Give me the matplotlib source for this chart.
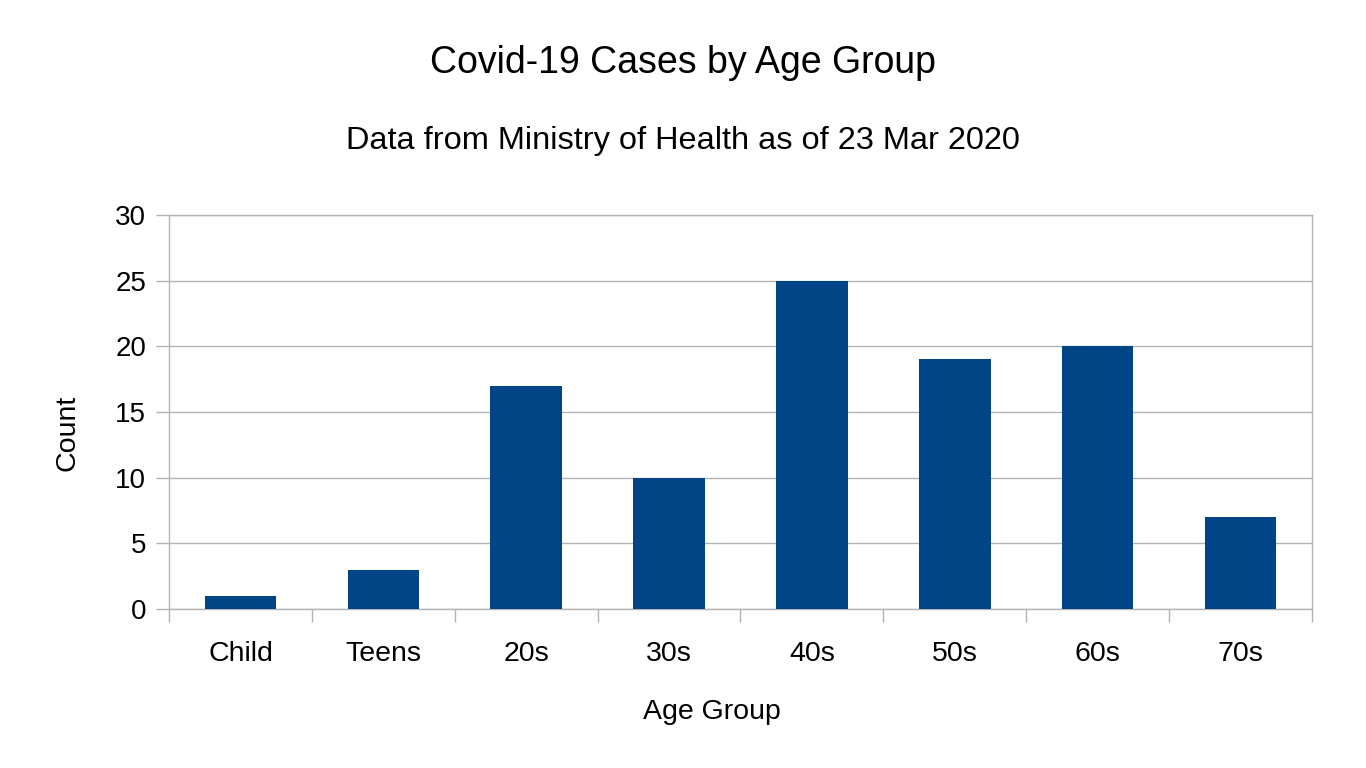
import matplotlib
matplotlib.use("Agg")
import matplotlib.pyplot as plt
import numpy as np

categories = ["Child", "Teens", "20s", "30s", "40s", "50s", "60s", "70s"]
counts = [1, 3, 17, 10, 25, 19, 20, 7]
y_ticks = [0, 5, 10, 15, 20, 25, 30]

plt.rcParams['font.family'] = ['Liberation Sans', 'DejaVu Sans']

fig = plt.figure(figsize=(13.66, 7.68), dpi=100)
W, H = 1366, 768
left, right, top, bottom = 169, 1312, 215, 609
ax = fig.add_axes([left / W, (H - bottom) / H, (right - left) / W, (bottom - top) / H])

grid_c = "#b3b3b3"
x = np.arange(len(categories))
ax.bar(x, counts, width=0.5, color="#004586", zorder=3)
ax.set_xlim(-0.5, len(categories) - 0.5)
ax.set_ylim(0, 30)
ax.set_yticks(y_ticks)
ax.set_yticklabels([str(v) for v in y_ticks], fontsize=20)
ax.yaxis.grid(True, color=grid_c, linewidth=1, zorder=0)
ax.set_axisbelow(True)

# x ticks: separators between categories, labels centered
ax.set_xticks(np.arange(-0.5, len(categories), 1.0))
ax.set_xticklabels([])
ax.set_xticks(x, minor=True)
ax.set_xticklabels(categories, minor=True, fontsize=20.5)
ax.tick_params(axis='x', which='major', length=9.5, color=grid_c, width=1)
ax.tick_params(axis='x', which='minor', length=0, pad=23)
ax.tick_params(axis='y', length=9.5, color=grid_c, width=1, pad=7)

for s in ax.spines.values():
    s.set_color(grid_c)
    s.set_linewidth(1)

ax.set_xlabel("Age Group", fontsize=20.5, labelpad=23)
ax.set_ylabel("Count", fontsize=20.5, labelpad=25)
ax.xaxis.label.set_x(0.475)
ax.yaxis.label.set_y(0.447)

fig.text(683 / W, 1 - 73 / H, "Covid-19 Cases by Age Group", ha='center', va='baseline', fontsize=27)
fig.text(683 / W, 1 - 149 / H, "Data from Ministry of Health as of 23 Mar 2020", ha='center', va='baseline', fontsize=23.4)

fig.savefig("out.png", dpi=100)
